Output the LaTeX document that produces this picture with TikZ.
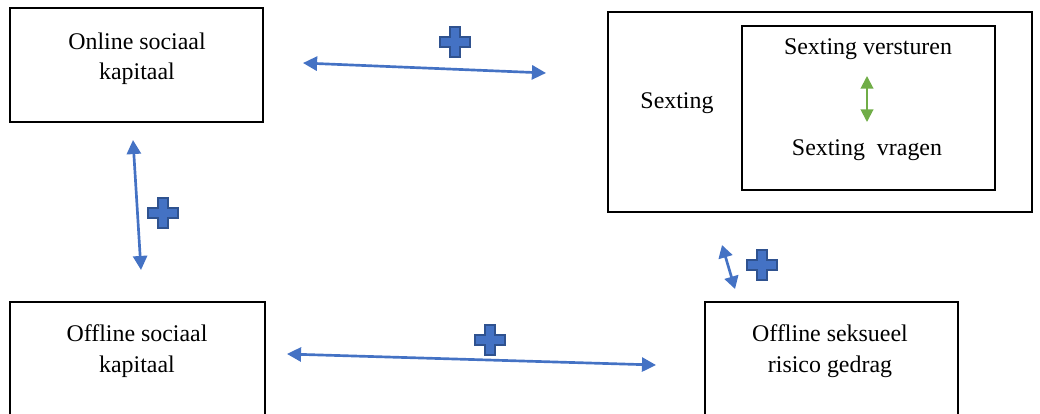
\documentclass[tikz,border=0pt]{standalone}
\usepackage{fontspec}
\setmainfont{Liberation Serif}
\usetikzlibrary{arrows.meta}

\definecolor{pijlblauw}{HTML}{4472C4}
\definecolor{plusrand}{HTML}{2F528F}
\definecolor{pijlgroen}{HTML}{70AD47}

\tikzset{
  blok/.style={draw, line width=0.9pt},
  tekst/.style={align=center, font=\fontsize{17}{21.5}\selectfont, anchor=north},
  relatie/.style={draw=pijlblauw, line width=1.9pt, {Triangle[length=10pt,width=10pt]}-{Triangle[length=10pt,width=10pt]}},
  plusje/.style={fill=pijlblauw, draw=plusrand, line width=1pt}
}

% plusteken rond een middelpunt
\newcommand{\plusteken}[2]{
  \draw[plusje] (#1,#2) +(-5,-15) -- +(5,-15) -- +(5,-5) -- +(15,-5) -- +(15,5)
    -- +(5,5) -- +(5,15) -- +(-5,15) -- +(-5,5) -- +(-15,5) -- +(-15,-5)
    -- +(-5,-5) -- cycle;
}

\begin{document}
\begin{tikzpicture}[x=0.025cm, y=-0.025cm]
\useasboundingbox (0,0) rectangle (1040,414);
\clip (0,0) rectangle (1040,414);

% blokken
\draw[blok] (10,8) rectangle (263,122);
\node[tekst] (online) at (137,28) {Online sociaal\\kapitaal};

\draw[blok] (608,12) rectangle (1032,212);
\node[tekst, anchor=center] (sexting) at (677,103) {Sexting};
\draw[blok] (742,26) rectangle (995,190);
\node[tekst, anchor=center] (versturen) at (868,49) {Sexting versturen};
\node[tekst, anchor=center] (vragen) at (867,150) {Sexting\ \ vragen};

\draw[blok] (10,302) rectangle (265,420);
\node[tekst] (offline) at (137,320) {Offline sociaal\\kapitaal};

\draw[blok] (705,302) rectangle (958,420);
\node[tekst] (seksueel) at (830,320) {Offline seksueel\\risico gedrag};

% eindpunten van de pijlen
\coordinate (a1) at (303,63);
\coordinate (a2) at (546,73);
\coordinate (b1) at (133,140);
\coordinate (b2) at (141,270);
\coordinate (c1) at (287,354);
\coordinate (c2) at (656,365);
\coordinate (d1) at (722,245);
\coordinate (d2) at (735,289);
\coordinate (g1) at (867,76);
\coordinate (g2) at (867,122);

\draw[relatie] (a1) -- (a2);
\draw[relatie] (b1) -- (b2);
\draw[relatie] (c1) -- (c2);
\draw[relatie, {Triangle[length=9pt,width=10pt]}-{Triangle[length=9pt,width=10pt]}] (d1) -- (d2);
\draw[relatie, draw=pijlgroen, line width=1.4pt, {Triangle[length=9pt,width=9pt]}-{Triangle[length=9pt,width=9pt]}] (g1) -- (g2);

% plustekens
\foreach \px/\py in {455/42, 163/213, 490/340, 762/265}{
  \plusteken{\px}{\py}
}
\end{tikzpicture}
\end{document}
